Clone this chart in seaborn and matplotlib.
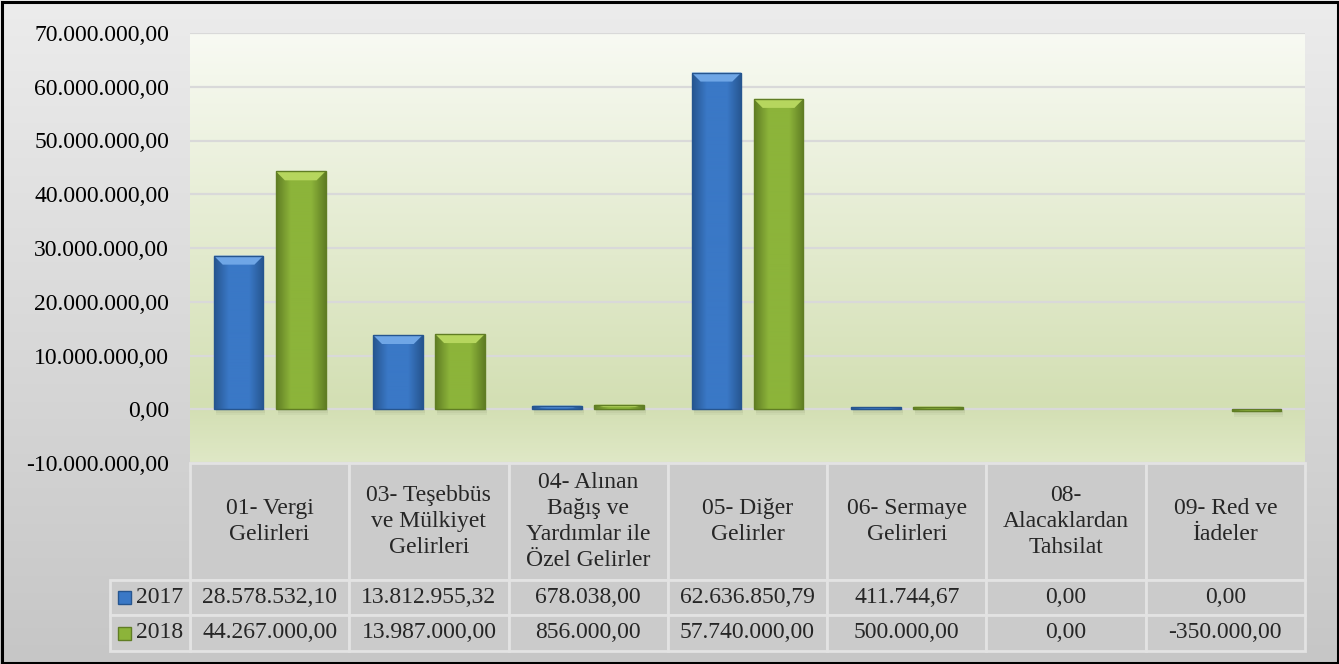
import numpy as np
import pandas as pd
import matplotlib
matplotlib.use("Agg")
import matplotlib.pyplot as plt
import seaborn as sns
from matplotlib.colors import LinearSegmentedColormap, to_rgb
from matplotlib.patches import Rectangle, Polygon
from matplotlib.ticker import FuncFormatter, MultipleLocator

# Data
categories = [
    "01- Vergi\nGelirleri",
    "03- Teşebbüs\nve Mülkiyet\nGelirleri",
    "04- Alınan\nBağış ve\nYardımlar ile\nÖzel Gelirler",
    "05- Diğer\nGelirler",
    "06- Sermaye\nGelirleri",
    "08-\nAlacaklardan\nTahsilat",
    "09- Red ve\nİadeler",
]
years = ["2017", "2018"]
values_2017 = [28578532.10, 13812955.32, 678038.00, 62636850.79, 411744.67, 0.00, 0.00]
values_2018 = [44267000.00, 13987000.00, 856000.00, 57740000.00, 500000.00, 0.00, -350000.00]

colors = {"2017": "#3a78c6", "2018": "#8cb43a"}
edge_colors = {"2017": "#26558f", "2018": "#607d24"}
light_colors = {"2017": "#6fa6e6", "2018": "#b6d65e"}


def tr_fmt(v, pos=None):
    s = f"{v:,.2f}"
    return s.replace(",", "X").replace(".", ",").replace("X", ".")


df = pd.DataFrame({
    "category": categories * 2,
    "year": [years[0]] * len(categories) + [years[1]] * len(categories),
    "value": values_2017 + values_2018,
})

sns.set_theme(style="white")
plt.rcParams["font.family"] = ["Liberation Serif", "DejaVu Serif"]
FS = 17

W, H = 1339, 664
fig = plt.figure(figsize=(W / 100, H / 100), dpi=100)

# figure background (grey gradient, light at top)
ax_bg = fig.add_axes([0, 0, 1, 1])
ax_bg.set_zorder(-10)
ax_bg.imshow(np.linspace(1, 0, 256).reshape(-1, 1), aspect="auto", origin="lower",
             extent=(0, 1, 0, 1),
             cmap=LinearSegmentedColormap.from_list("bg", ["#ececec", "#c6c6c6"]))
ax_bg.set_xlim(0, 1)
ax_bg.set_ylim(0, 1)
ax_bg.axis("off")

# plot area
left, right = 190 / W, 1305 / W
top, bottom = 33 / H, 463 / H
ax = fig.add_axes([left, 1 - bottom, right - left, bottom - top])
ax.patch.set_visible(False)

sns.barplot(data=df, x="category", y="value", hue="year", order=categories,
            hue_order=years, palette=colors, width=0.78, gap=0.2,
            errorbar=None, legend=False, ax=ax, zorder=2, linewidth=0)

ax.set_xlim(-0.5, len(categories) - 0.5)
ax.set_ylim(-10_000_000, 70_000_000)
ax.yaxis.set_major_locator(MultipleLocator(10_000_000))
ax.yaxis.set_major_formatter(FuncFormatter(tr_fmt))
ax.tick_params(axis="y", length=0, pad=15, labelsize=FS, labelcolor="black")
ax.set_xticks([])
ax.set_xlabel("")
ax.set_ylabel("")
for s in ax.spines.values():
    s.set_visible(False)
ax.grid(axis="y", color="#d9d9d9", linewidth=1.6)
ax.set_axisbelow(True)

# plot area green gradient (white-ish at top, green near the base)
area = LinearSegmentedColormap.from_list(
    "area", [(0, "#f8faf3"), (0.87, "#d3dfb3"), (1, "#dfe8c6")])
ax.imshow(np.linspace(1, 0, 256).reshape(-1, 1), aspect="auto", origin="lower", cmap=area,
          extent=(0, 1, 0, 1), transform=ax.transAxes, zorder=0)

# bevel effect on each bar
px_x = (len(categories)) / (1305 - 190)      # data units per pixel
px_y = 80_000_000 / (463 - 33)
for patch in list(ax.patches):
    fc = patch.get_facecolor()
    year = min(years, key=lambda y: np.sum(np.abs(np.array(to_rgb(colors[y])) - np.array(fc[:3]))))
    x, y0 = patch.get_x(), patch.get_y()
    w, h = patch.get_width(), patch.get_height()
    if h == 0:
        continue
    lo, hi = min(y0, y0 + h), max(y0, y0 + h)
    # soft shadow under the bar
    for k in range(3):
        ax.add_patch(Rectangle((x + 2 * px_x, lo - (2 + 2 * k) * px_y), w, (2 + 2 * k) * px_y,
                               facecolor="#6b7a55", alpha=0.07, linewidth=0, zorder=1.5))
    base = np.array(to_rgb(colors[year]))
    dark = np.array(to_rgb(edge_colors[year]))
    grad = np.concatenate([np.linspace(0, 1, 30), np.ones(40), np.linspace(1, 0, 30)])
    img = dark + (base - dark) * grad[:, None]
    im = ax.imshow(img[None, :, :], aspect="auto", extent=(x, x + w, lo, hi), zorder=2.1)
    im.set_clip_path(patch)
    bx = min(9 * px_x, w / 2)
    by = min(9 * px_y, (hi - lo) / 2)
    ax.add_patch(Polygon([(x, hi), (x + w, hi), (x + w - bx, hi - by), (x + bx, hi - by)],
                         closed=True, facecolor=light_colors[year], edgecolor="none", zorder=2.2))
    ax.add_patch(Rectangle((x, lo), w, hi - lo, fill=False, edgecolor=edge_colors[year],
                           linewidth=1.0, zorder=2.3))
ax.set_xlim(-0.5, len(categories) - 0.5)
ax.set_ylim(-10_000_000, 70_000_000)

# data table below the plot
t_top, t_bot = 463, 651
ax_t = fig.add_axes([left, 1 - t_bot / H, right - left, (t_bot - t_top) / H])
ax_t.set_xlim(-0.5, len(categories) - 0.5)
ax_t.set_ylim(t_bot - t_top, 0)
ax_t.axis("off")

cell_fc, cell_ec = "#cbcbcb", "#e3e3e3"
rows = [(0, 117), (117, 35), (152, 36)]
for i, cat in enumerate(categories):
    for (ry, rh) in rows:
        ax_t.add_patch(Rectangle((i - 0.5, ry), 1, rh, facecolor=cell_fc,
                                 edgecolor=cell_ec, linewidth=2, clip_on=False))
    ax_t.text(i, rows[0][0] + rows[0][1] / 2, cat, ha="center", va="center",
              fontsize=FS, linespacing=1.3)
    ax_t.text(i, rows[1][0] + rows[1][1] / 2, tr_fmt(values_2017[i]),
              ha="center", va="center", fontsize=FS)
    ax_t.text(i, rows[2][0] + rows[2][1] / 2, tr_fmt(values_2018[i]),
              ha="center", va="center", fontsize=FS)

lab_w = (190 - 110) / 159.3
sq_w, sq_h = 13 / 159.3, 13
for (ry, rh), yr in zip(rows[1:], years):
    ax_t.add_patch(Rectangle((-0.5 - lab_w, ry), lab_w, rh, facecolor=cell_fc,
                             edgecolor=cell_ec, linewidth=2, clip_on=False))
    yc = ry + rh / 2
    ax_t.add_patch(Rectangle((-0.5 - lab_w + 8 / 159.3, yc - sq_h / 2), sq_w, sq_h,
                             facecolor=colors[yr], edgecolor=edge_colors[yr],
                             linewidth=1, clip_on=False))
    ax_t.text(-0.5 - 7 / 159.3, yc, yr, ha="right", va="center", fontsize=FS)

# outer frame
fig.add_artist(Rectangle((1.5 / W, 1.5 / H), 1 - 3 / W, 1 - 3 / H, transform=fig.transFigure,
                         fill=False, edgecolor="black", linewidth=2.2))

fig.savefig("out.png", dpi=100)
